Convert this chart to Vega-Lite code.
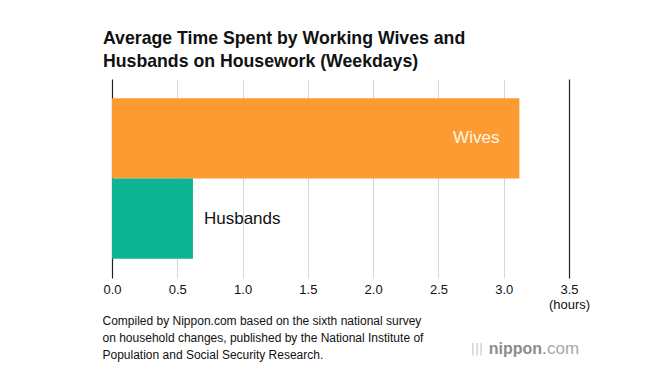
{
  "$schema": "https://vega.github.io/schema/vega-lite/v6.json",
  "width": 457,
  "height": 199,
  "autosize": "none",
  "padding": {"left": 112, "top": 79, "right": 91, "bottom": 89},
  "background": "white",
  "config": {
    "font": "Liberation Sans",
    "view": {"stroke": null}
  },
  "title": {
    "text": ["Average Time Spent by Working Wives and", "Husbands on Housework (Weekdays)"],
    "anchor": "start",
    "frame": "group",
    "font": "Liberation Sans",
    "fontSize": 17.7,
    "fontWeight": "bold",
    "color": "#111111",
    "lineHeight": 23,
    "dx": -9,
    "offset": 8
  },
  "data": {
    "values": [
      {"group": "Wives", "hours": 3.12},
      {"group": "Husbands", "hours": 0.62}
    ]
  },
  "encoding": {
    "y": {
      "field": "group",
      "type": "nominal",
      "sort": ["Wives", "Husbands"],
      "scale": {"domain": ["Wives", "Husbands"], "paddingInner": 0, "paddingOuter": 0.24},
      "axis": null
    },
    "x": {
      "field": "hours",
      "type": "quantitative",
      "scale": {"domain": [0, 3.5], "nice": false},
      "axis": {
        "values": [0, 0.5, 1, 1.5, 2, 2.5, 3, 3.5],
        "format": ".1f",
        "labelExpr": "datum.value === 3.5 ? ['3.5', '(hours)'] : datum.label",
        "labelFont": "Liberation Sans",
        "labelFontSize": 13,
        "labelColor": "#111111",
        "labelLineHeight": 15,
        "labelPadding": 5,
        "labelFlush": false,
        "ticks": false,
        "domain": false,
        "grid": true,
        "gridColor": {"condition": {"test": "datum.value === 0 || datum.value === 3.5", "value": "#222222"}, "value": "#d6d6d6"},
        "gridWidth": {"condition": {"test": "datum.value === 0 || datum.value === 3.5", "value": 1.2}, "value": 1},
        "title": [
          "Compiled by Nippon.com based on the sixth national survey",
          "on household changes, published by the National Institute of",
          "Population and Social Security Research."
        ],
        "titleFont": "Liberation Sans",
        "titleFontSize": 12,
        "titleFontWeight": "normal",
        "titleColor": "#111111",
        "titleAnchor": "start",
        "titleAlign": "left",
        "titleBaseline": "top",
        "titleLineHeight": 17,
        "titleX": -10,
        "titleY": 37
      }
    }
  },
  "layer": [
    {
      "mark": {"type": "bar"},
      "encoding": {
        "color": {
          "field": "group",
          "type": "nominal",
          "scale": {"domain": ["Wives", "Husbands"], "range": ["#FD9B33", "#0DB592"]},
          "legend": null
        }
      }
    },
    {
      "transform": [{"filter": "datum.group === 'Wives'"}],
      "mark": {"type": "text", "align": "right", "baseline": "middle", "dx": -20, "fontSize": 17, "color": "#FFF6E6", "font": "Liberation Sans"},
      "encoding": {"text": {"field": "group"}}
    },
    {
      "transform": [{"filter": "datum.group === 'Husbands'"}],
      "mark": {"type": "text", "align": "left", "baseline": "middle", "dx": 11, "fontSize": 17, "color": "#111111", "font": "Liberation Sans"},
      "encoding": {"text": {"field": "group"}}
    },
    {
      "data": {"values": [{"logo": "nippon", "pos": 3.5, "group": "Husbands"}]},
      "mark": {"type": "text", "align": "right", "baseline": "middle", "dx": -27, "dy": 130, "fontSize": 16, "fontWeight": "bold", "color": "#8c8c8c", "font": "Liberation Sans"},
      "encoding": {"x": {"field": "pos", "type": "quantitative"}, "text": {"field": "logo"}}
    },
    {
      "data": {"values": [{"logo": ".", "pos": 3.5, "group": "Husbands"}]},
      "mark": {"type": "text", "align": "left", "baseline": "middle", "dx": -27, "dy": 130, "fontSize": 17, "fontWeight": "normal", "color": "#E0605A", "font": "Liberation Sans"},
      "encoding": {"x": {"field": "pos", "type": "quantitative"}, "text": {"field": "logo"}}
    },
    {
      "data": {"values": [{"logo": "com", "pos": 3.5, "group": "Husbands"}]},
      "mark": {"type": "text", "align": "left", "baseline": "middle", "dx": -22, "dy": 130, "fontSize": 17, "fontWeight": "normal", "color": "#a8a8a8", "font": "Liberation Sans"},
      "encoding": {"x": {"field": "pos", "type": "quantitative"}, "text": {"field": "logo"}}
    },
    {
      "data": {"values": [{"logo": "|||", "pos": 3.5, "group": "Husbands"}]},
      "mark": {"type": "text", "align": "right", "baseline": "middle", "dx": -86, "dy": 130, "fontSize": 12, "color": "#c4c4c4", "font": "DejaVu Sans"},
      "encoding": {"x": {"field": "pos", "type": "quantitative"}, "text": {"field": "logo"}}
    }
  ]
}
